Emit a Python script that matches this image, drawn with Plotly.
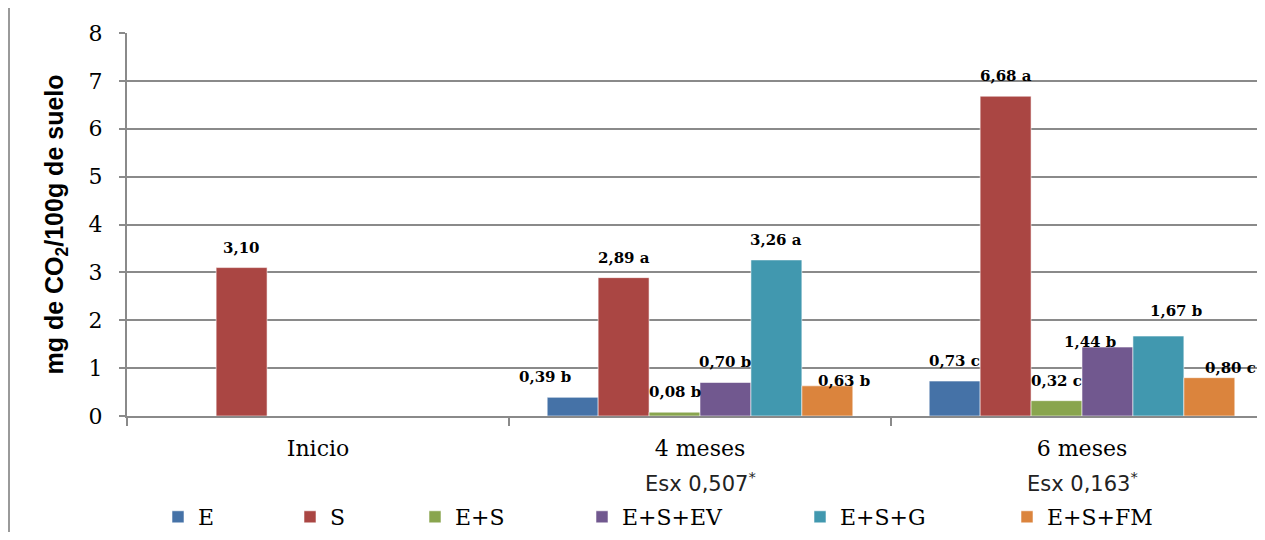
import plotly.graph_objects as go

categories = ["Inicio", "4 meses", "6 meses"]
series_names = ["E", "S", "E+S", "E+S+EV", "E+S+G", "E+S+FM"]
colors = ["#4572A7", "#AA4643", "#89A54E", "#71588F", "#4198AF", "#DB843D"]

E_vals = [None, 0.39, 0.73]
S_vals = [3.10, 2.89, 6.68]
ES_vals = [None, 0.08, 0.32]
ESEV_vals = [None, 0.70, 1.44]
ESG_vals = [None, 3.26, 1.67]
ESFM_vals = [None, 0.63, 0.80]

E_letters = ["", "b", "c"]
S_letters = ["", "a", "a"]
ES_letters = ["", "b", "c"]
ESEV_letters = ["", "b", "b"]
ESG_letters = ["", "a", "b"]
ESFM_letters = ["", "b", "c"]

esx_labels = ["", "Esx 0,507", "Esx 0,163"]
y_ticks = [0, 1, 2, 3, 4, 5, 6, 7, 8]

all_vals = [E_vals, S_vals, ES_vals, ESEV_vals, ESG_vals, ESFM_vals]
all_letters = [E_letters, S_letters, ES_letters, ESEV_letters, ESG_letters, ESFM_letters]

# label placement tweaks (pixels) keyed by (series index, category index)
label_shift = {
    (0, 1): (-28, 20),
    (5, 1): (17, 5),
    (3, 2): (-17, 5),
    (4, 2): (18, 25),
    (5, 2): (21, 10),
}

# page has an 8px body margin on every side; keep the figure inside the viewport
OFF = 8
W, H = 1265 - 2 * OFF, 540 - 2 * OFF
PL, PR, PT, PB = 127, OFF + W, 33, 416   # plot area in page pixels
ML, MT = PL - OFF, PT - OFF
MR = (OFF + W) - PR
MB = (OFF + H) - PB
pw = PR - PL
ph = PB - PT
CAT_PX = 382.0

BARGAP = 0.2
n = len(series_names)

fig = go.Figure()
for i, (name, vals, col) in enumerate(zip(series_names, all_vals, colors)):
    fig.add_trace(go.Bar(
        name=name, x=categories, y=vals,
        marker=dict(color=col, line=dict(color="rgba(255,255,255,0.55)", width=1)),
        legend="legend" if i == 0 else f"legend{i+1}",
        hoverinfo="skip",
    ))

annotations = []
slot = (1 - BARGAP) / n
for i, (vals, letters) in enumerate(zip(all_vals, all_letters)):
    for c, (v, L) in enumerate(zip(vals, letters)):
        if v is None:
            continue
        txt = f"{v:.2f}".replace(".", ",")
        if L:
            txt += " " + L
        xpos = c - (1 - BARGAP) / 2 + (i + 0.5) * slot
        dx, dy = label_shift.get((i, c), (0, 20))
        annotations.append(dict(
            x=xpos, y=v, xref="x", yref="y", text=f"<b>{txt}</b>", showarrow=False,
            xanchor="center", yanchor="middle", xshift=dx, yshift=dy,
            font=dict(family="DejaVu Serif", size=15, color="#000"),
        ))

for c, t in enumerate(esx_labels):
    if not t:
        continue
    annotations.append(dict(
        x=c, y=(PB - 482) / ph, xref="x", yref="paper",
        text=t + "<sup>*</sup>", showarrow=False, xanchor="center", yanchor="middle",
        font=dict(family="DejaVu Sans", size=21, color="#222"),
    ))

# legends positioned individually
legend_px = [172, 304, 429, 596, 814, 1021]
legend_layout = {}
for i, px in enumerate(legend_px):
    key = "legend" if i == 0 else f"legend{i+1}"
    legend_layout[key] = dict(
        x=(px - 14 - PL) / pw, y=(PB - 517) / ph, xref="paper", yref="paper",
        xanchor="left", yanchor="middle", orientation="h",
        font=dict(family="DejaVu Serif", size=22, color="#000"),
        bgcolor="rgba(0,0,0,0)", borderwidth=0, itemwidth=30,
    )

fig.update_layout(
    width=W, height=H,
    margin=dict(l=ML, r=MR, t=MT, b=MB, autoexpand=False),
    paper_bgcolor="white", plot_bgcolor="white",
    barmode="group", bargap=BARGAP, bargroupgap=0,
    annotations=annotations,
    showlegend=True,
    **legend_layout,
)

fig.update_xaxes(
    type="category", range=[-0.5, -0.5 + pw / CAT_PX],
    showgrid=False, showline=True, linecolor="#8a8a8a", linewidth=2,
    ticks="outside", tickson="boundaries", ticklen=8, tickcolor="#8a8a8a", tickwidth=2,
    tickfont=dict(family="DejaVu Serif", size=22, color="#000"),
    ticklabelstandoff=12, zeroline=False,
)
fig.update_yaxes(
    range=[0, 8], tickvals=y_ticks, ticktext=[str(t) for t in y_ticks],
    showgrid=True, gridcolor="#8a8a8a", gridwidth=2,
    showline=True, linecolor="#8a8a8a", linewidth=2,
    ticks="outside", ticklen=6, tickcolor="#8a8a8a", tickwidth=2,
    tickfont=dict(family="DejaVu Serif", size=22, color="#000"),
    ticklabelstandoff=12,
    zeroline=False,
    title=dict(text="<b>mg de CO<sub>2</sub>/100g de suelo</b>",
               font=dict(family="Liberation Sans", size=25, color="#000"), standoff=18),
    automargin=False,
)

# outer frame: only its left and top edges are visible in the reference crop
fx = (9 - PL) / pw
fy = (PB - 5) / ph
frame_line = dict(color="#9a9a9a", width=2)
fig.add_shape(type="line", xref="paper", yref="paper", x0=fx, x1=fx, y0=-0.5, y1=fy,
              line=frame_line, layer="below")
fig.add_shape(type="line", xref="paper", yref="paper", x0=fx, x1=1.2, y0=fy, y1=fy,
              line=frame_line, layer="below")

fig.write_html("out.html")
